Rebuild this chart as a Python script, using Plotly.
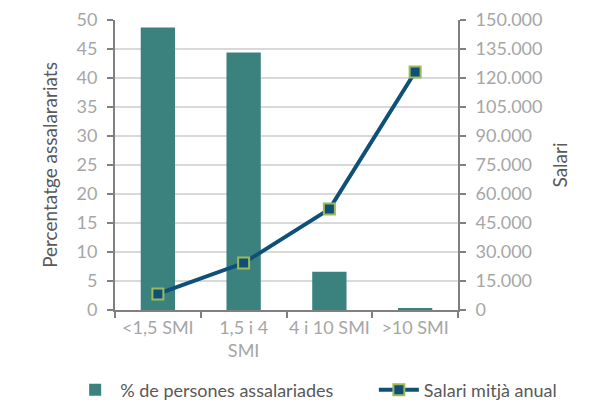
import plotly.graph_objects as go

categories = ["<1,5 SMI", "1,5 i 4<br>SMI", "4 i 10 SMI", ">10 SMI"]
pct_assalariats = [48.7, 44.4, 6.6, 0.2]
salari_mitja = [8300, 24300, 52200, 123100]

font_family = "Lato, 'Open Sans', sans-serif"
tick_grey = "#a6a6a6"
axis_grey = "#808080"
title_grey = "#595959"

fig = go.Figure()
fig.add_trace(
    go.Bar(
        x=categories,
        y=pct_assalariats,
        name="% de persones assalariades",
        marker=dict(color="#3b817d", line=dict(color="#3b817d", width=0)),
        width=0.4,
        legend="legend",
    )
)
fig.add_trace(
    go.Scatter(
        x=categories,
        y=salari_mitja,
        name="Salari mitjà anual",
        mode="lines+markers",
        yaxis="y2",
        line=dict(color="#0e5077", width=4),
        marker=dict(symbol="square", size=11, color="#0e5077",
                    line=dict(color="#9bbb59", width=2)),
        legend="legend2",
    )
)

legend_common = dict(orientation="h", xanchor="left", xref="container",
                     yanchor="middle", yref="container",
                     font=dict(size=18, color=title_grey),
                     itemwidth=40, bgcolor="rgba(0,0,0,0)")

fig.update_layout(
    width=592,
    height=400,
    # the page has an 8px body margin, so shift the plot area up/left
    margin=dict(l=107, r=142, t=12, b=98),
    plot_bgcolor="white",
    paper_bgcolor="white",
    separators=",.",
    font=dict(family=font_family, size=17, color=tick_grey),
    showlegend=True,
    legend=dict(legend_common, x=0.105, y=0.045),
    legend2=dict(legend_common, x=0.618, y=0.045),
    xaxis=dict(
        showline=True, linecolor=axis_grey, linewidth=2,
        ticks="outside", tickson="boundaries", ticklen=6, tickcolor=axis_grey, tickwidth=2,
        tickfont=dict(size=18, color=tick_grey),
        tickangle=0,
        automargin=False,
    ),
    yaxis=dict(
        range=[0, 50], dtick=5,
        showline=True, linecolor=axis_grey, linewidth=2,
        ticks="outside", ticklen=6, tickcolor=axis_grey, tickwidth=2,
        ticklabelstandoff=6,
        gridcolor="#d9d9d9", gridwidth=2,
        tickfont=dict(size=18, color=tick_grey),
        title=dict(text="Percentatge assalarariats", font=dict(size=19, color=title_grey), standoff=14),
        zeroline=False,
        automargin=False,
    ),
    yaxis2=dict(
        range=[0, 150000], dtick=15000, tickformat=",d",
        overlaying="y", side="right",
        showline=True, linecolor=axis_grey, linewidth=2,
        ticks="outside", ticklen=6, tickcolor=axis_grey, tickwidth=2,
        ticklabelstandoff=6,
        showgrid=False, zeroline=False,
        tickfont=dict(size=18, color=tick_grey),
        title=dict(text="Salari", font=dict(size=19, color=title_grey), standoff=12),
        automargin=False,
    ),
)

fig.write_html("out.html")
